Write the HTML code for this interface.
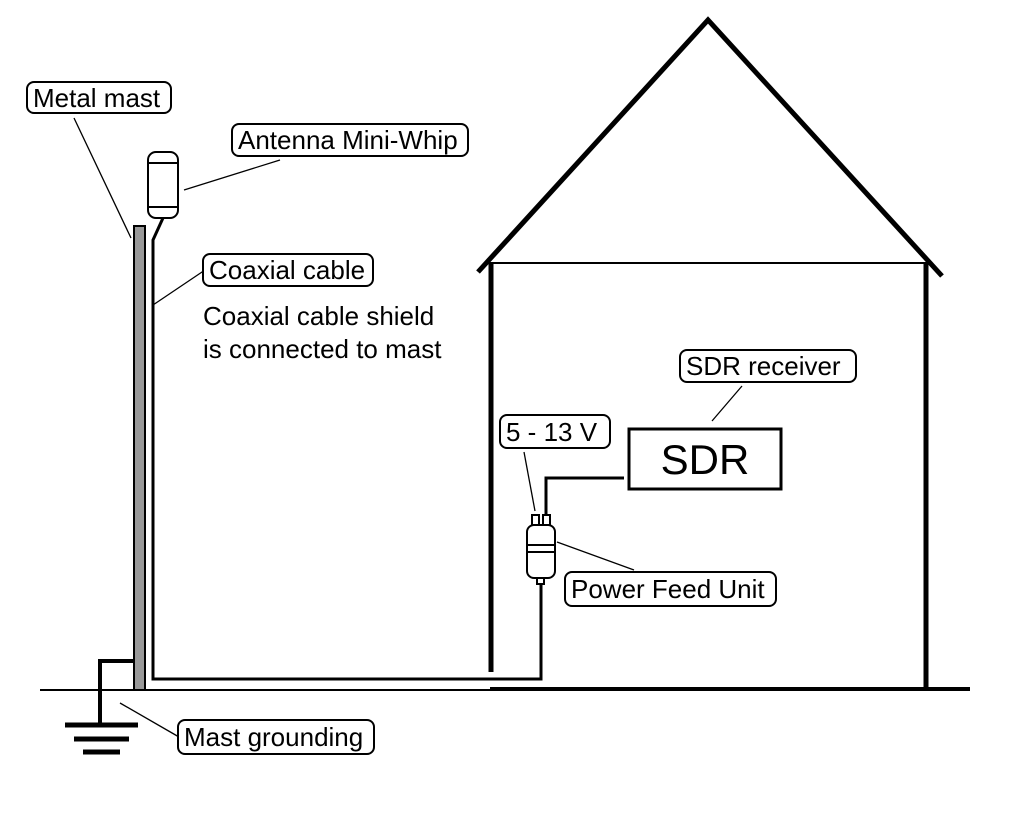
<!DOCTYPE html>
<html><head><style>
body{margin:0;background:#fff;}
svg{display:block;font-family:"Liberation Sans",Arial,sans-serif;}
.lb{fill:#fff;stroke:#000;stroke-width:2;}
text{font-size:26px;fill:#000;}
</style></head><body>
<svg width="1024" height="820" viewBox="0 0 1024 820">
<rect width="1024" height="820" fill="#fff"/>
<line x1="40" y1="690" x2="490" y2="690" stroke="#000" stroke-width="2"/>
<line x1="490" y1="689" x2="970" y2="689" stroke="#000" stroke-width="4"/>
<polyline points="478,272 708,20 942,276" fill="none" stroke="#000" stroke-width="5"/>
<line x1="488" y1="263" x2="928" y2="263" stroke="#000" stroke-width="2"/>
<line x1="491" y1="263" x2="491" y2="672" stroke="#000" stroke-width="5"/>
<line x1="926" y1="263" x2="926" y2="690" stroke="#000" stroke-width="5"/>
<rect x="134" y="226" width="11" height="464" fill="#999" stroke="#000" stroke-width="2"/>
<polyline points="163,218 153,240 153,679 541,679 541,583" fill="none" stroke="#000" stroke-width="3"/>
<polyline points="134,661 100,661 100,725" fill="none" stroke="#000" stroke-width="4"/>
<line x1="65" y1="725" x2="138" y2="725" stroke="#000" stroke-width="5"/>
<line x1="74" y1="739" x2="129" y2="739" stroke="#000" stroke-width="5"/>
<line x1="83" y1="752" x2="120" y2="752" stroke="#000" stroke-width="5"/>
<rect x="148" y="152" width="30" height="66" rx="8" fill="#fff" stroke="#000" stroke-width="2"/>
<line x1="148" y1="163" x2="178" y2="163" stroke="#000" stroke-width="2"/>
<line x1="148" y1="207" x2="178" y2="207" stroke="#000" stroke-width="2"/>
<rect x="629" y="429" width="152" height="60" fill="#fff" stroke="#000" stroke-width="3"/>
<text x="705" y="474" text-anchor="middle" style="font-size:42px">SDR</text>
<polyline points="624,478 546,478 546,516" fill="none" stroke="#000" stroke-width="3"/>
<rect x="532" y="515" width="7" height="10" fill="#fff" stroke="#000" stroke-width="2"/>
<rect x="543" y="515" width="7" height="10" fill="#fff" stroke="#000" stroke-width="2"/>
<rect x="527" y="525" width="28" height="53" rx="7" fill="#fff" stroke="#000" stroke-width="2"/>
<line x1="527" y1="545" x2="555" y2="545" stroke="#000" stroke-width="2"/>
<line x1="527" y1="552" x2="555" y2="552" stroke="#000" stroke-width="2"/>
<rect x="537" y="578" width="7" height="6" fill="#fff" stroke="#000" stroke-width="2"/>
<g stroke="#000" stroke-width="1.3">
<line x1="74" y1="118" x2="131" y2="238"/>
<line x1="184" y1="190" x2="280" y2="160"/>
<line x1="153" y1="305" x2="205" y2="270"/>
<line x1="712" y1="421" x2="742" y2="386"/>
<line x1="524" y1="452" x2="535" y2="511"/>
<line x1="557" y1="542" x2="634" y2="570"/>
<line x1="120" y1="703" x2="179" y2="737"/>
</g>
<rect class="lb" x="27" y="82" width="144" height="31" rx="7"/>
<text x="33" y="107">Metal mast</text>
<rect class="lb" x="232" y="124" width="236" height="32" rx="7"/>
<text x="238" y="149">Antenna Mini-Whip</text>
<rect class="lb" x="203" y="254" width="170" height="32" rx="7"/>
<text x="209" y="279">Coaxial cable</text>
<text x="203" y="325">Coaxial cable shield</text>
<text x="203" y="358">is connected to mast</text>
<rect class="lb" x="680" y="350" width="176" height="32" rx="7"/>
<text x="686" y="375">SDR receiver</text>
<rect class="lb" x="500" y="415" width="110" height="33" rx="7"/>
<text x="506" y="441">5 - 13 V</text>
<rect class="lb" x="565" y="572" width="211" height="34" rx="7"/>
<text x="571" y="598">Power Feed Unit</text>
<rect class="lb" x="178" y="720" width="196" height="34" rx="7"/>
<text x="184" y="746">Mast grounding</text>
</svg>
</body></html>
